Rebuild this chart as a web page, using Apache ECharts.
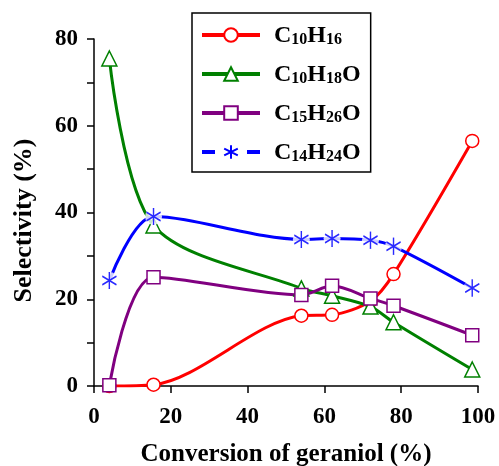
<!DOCTYPE html>
<html><head><meta charset="utf-8">
<script src="https://cdn.jsdelivr.net/npm/echarts@6/dist/echarts.min.js"></script>
<style>html,body{margin:0;padding:0;background:#fff}#c{width:499px;height:466px}</style>
</head><body><div id="c"></div>
<script>
const conversion = [4, 15.5, 54, 62, 72, 78, 98.5];
const seriesNames = ['C10H16', 'C10H18O', 'C15H26O', 'C14H24O'];
const c10h16 = [0, 0.3, 16.2, 16.4, 19.6, 25.8, 56.5];
const c10h18o = [75.5, 37, 22.5, 20.8, 18.3, 14.7, 3.8];
const c15h26o = [0.2, 25.1, 21.0, 23.1, 20.2, 18.5, 11.7];
const c14h24o = [24.3, 39.1, 33.8, 34.0, 33.6, 32.2, 22.6];
const xTicks = [0, 20, 40, 60, 80, 100];
const yTicks = [0, 20, 40, 60, 80];

const FONT = 'Liberation Serif';
const pair = (ys) => conversion.map((x, i) => [x, ys[i]]);
const starPath = 'path://M0,-10L0,10M-9,-5L9,5M-9,5L9,-5';
const STAR_SIZE = [14, 17];

function mk(name, ys, color, symbol, size, fill) {
  return {
    name, type: 'line', data: pair(ys), smooth: 0.3,
    symbol, symbolSize: size, showAllSymbol: true,
    lineStyle: { color, width: 3 },
    itemStyle: { color: fill, borderColor: color, borderWidth: 1.5 },
    emphasis: { disabled: true }
  };
}

const chart = echarts.init(document.getElementById('c'));
chart.setOption({
  animation: false,
  grid: { left: 94, right: 21, top: 39, bottom: 80, outerBoundsMode: 'none', containLabel: false },
  xAxis: {
    type: 'value', min: xTicks[0], max: xTicks[xTicks.length - 1], interval: 20,
    name: 'Conversion of geraniol (%)', nameLocation: 'middle', nameGap: 56,
    nameTextStyle: { fontFamily: FONT, fontWeight: 'bold', fontSize: 25, color: '#000' },
    axisLine: { lineStyle: { color: '#000', width: 1.5 } },
    axisTick: { length: 7, lineStyle: { color: '#000', width: 1.5 } },
    axisLabel: { fontFamily: FONT, fontWeight: 'bold', fontSize: 23, color: '#000', margin: 20 },
    splitLine: { show: false }
  },
  yAxis: {
    type: 'value', min: yTicks[0], max: yTicks[yTicks.length - 1], interval: 20,
    name: 'Selectivity (%)', nameLocation: 'middle', nameGap: 57, nameRotate: 90,
    nameTextStyle: { fontFamily: FONT, fontWeight: 'bold', fontSize: 26, color: '#000', padding: [0, 16, 0, 0] },
    axisLine: { show: true, lineStyle: { color: '#000', width: 1.5 } },
    axisTick: { show: true, length: 7, lineStyle: { color: '#000', width: 1.5 } },
    minorTick: { show: true, splitNumber: 2, length: 7, lineStyle: { color: '#000', width: 1.5 } },
    axisLabel: { fontFamily: FONT, fontWeight: 'bold', fontSize: 23, color: '#000', margin: 16 },
    splitLine: { show: false }
  },
  legend: {
    orient: 'vertical', left: 192, top: 13,
    padding: [11, 10, 7, 8],
    borderColor: '#000', borderWidth: 1.5, backgroundColor: '#fff',
    itemWidth: 58, itemHeight: 17, itemGap: 15,
    data: [
      { name: seriesNames[0], lineStyle: { width: 4 } },
      { name: seriesNames[1], lineStyle: { width: 4 } },
      { name: seriesNames[2], lineStyle: { width: 4 } },
      { name: seriesNames[3], lineStyle: { width: 4, type: [13, 32] } }
    ],
    formatter: (n) => n.replace(/([A-Z]+)|(\d+)/g, (m, a, d) => a ? '{m|' + a + '}' : '{s|' + d + '}'),
    textStyle: {
      padding: [0, 0, 0, 9],
      rich: {
        m: { fontFamily: FONT, fontWeight: 'bold', fontSize: 24, color: '#000', lineHeight: 26, verticalAlign: 'bottom' },
        s: { fontFamily: FONT, fontWeight: 'bold', fontSize: 16, color: '#000', lineHeight: 16, verticalAlign: 'bottom' }
      }
    }
  },
  series: [
    mk(seriesNames[0], c10h16, '#ff0000', 'circle', 13, '#fff'),
    mk(seriesNames[1], c10h18o, '#008000', 'triangle', 15, '#fff'),
    mk(seriesNames[2], c15h26o, '#800080', 'rect', 13, '#fff'),
    mk(seriesNames[3], c14h24o, '#0000ff', starPath, STAR_SIZE, '#0000ff'),
    {
      name: 'starBackground', type: 'scatter', data: pair(c14h24o), z: 3,
      symbol: 'circle', symbolSize: 17, itemStyle: { color: '#fff' },
      emphasis: { disabled: true }, silent: true
    },
    {
      name: 'starMarks', type: 'scatter', data: pair(c14h24o), z: 4,
      symbol: starPath, symbolSize: STAR_SIZE,
      itemStyle: { color: '#0000ff', borderColor: '#0000ff', borderWidth: 1.5 },
      emphasis: { disabled: true }, silent: true
    }
  ]
});
</script></body></html>
